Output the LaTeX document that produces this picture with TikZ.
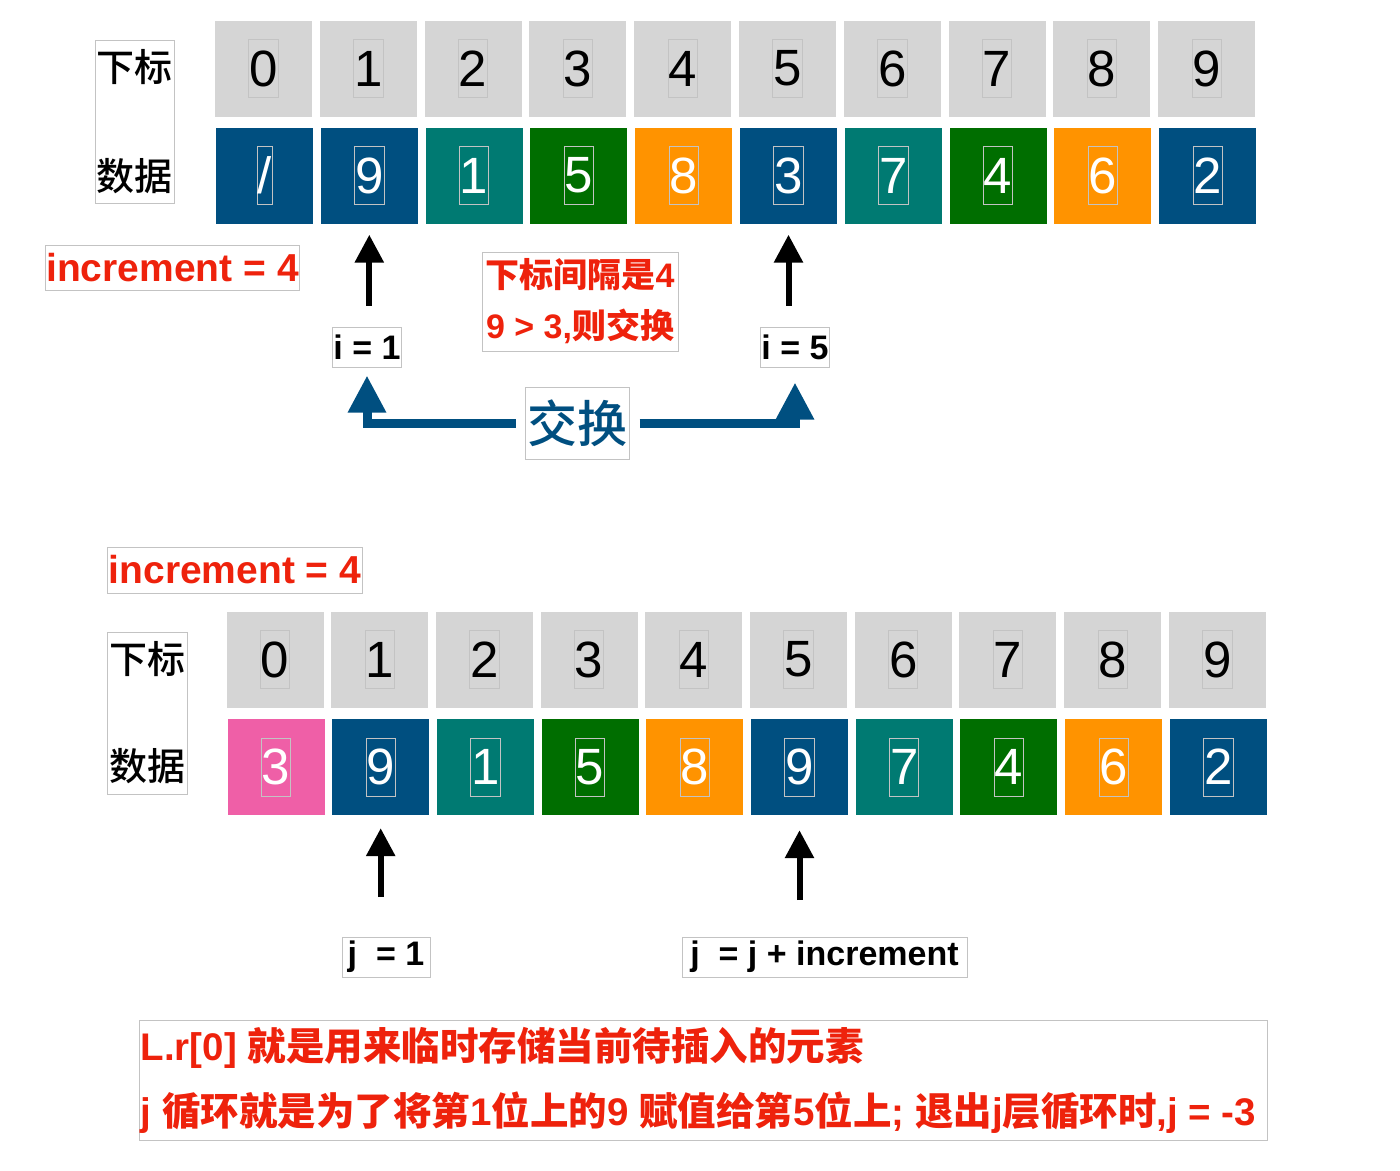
\documentclass[tikz,border=0pt]{standalone}
\usepackage{fontspec}
\setmainfont{Liberation Sans}
\newfontfamily\cjk{Noto Sans CJK SC}
\newfontfamily\cjkm{Noto Sans CJK SC Medium}
\usetikzlibrary{arrows.meta,positioning}
\definecolor{cellgray}{RGB}{213,213,213}
\definecolor{dblue}{RGB}{0,79,128}
\definecolor{dteal}{RGB}{0,122,114}
\definecolor{dgreen}{RGB}{0,110,0}
\definecolor{dorange}{RGB}{255,147,0}
\definecolor{dpink}{RGB}{239,95,167}
\definecolor{kred}{RGB}{238,34,12}
\definecolor{boxgray}{RGB}{195,195,195}
\newcommand{\fsz}[2]{\fontsize{#1}{#2}\selectfont}

\begin{document}
\begin{tikzpicture}[
  x=1pt, y=-1pt,
  cell/.style={minimum width=97pt, minimum height=96pt, inner sep=0pt},
  digit/.style={draw=boxgray, line width=0.8pt, inner xsep=0.5pt, inner ysep=0pt, minimum height=58pt, font=\fsz{51}{60}},
  tbox/.style={draw=boxgray, line width=1pt, inner xsep=1pt, inner ysep=0pt, align=center},
  redtxt/.style={text=kred, font=\bfseries\fsz{39}{46}},
  up/.style={-{Triangle[length=28pt,width=28pt]}, line width=6pt},
  swap/.style={-{Triangle[length=37pt,width=36pt]}, line width=9pt, draw=dblue}
]
\useasboundingbox (0,0) rectangle (1400,1170);

% upper array
\foreach \v/\c [count=\i from 0] in {\slash/dblue,9/dblue,1/dteal,5/dgreen,8/dorange,3/dblue,7/dteal,4/dgreen,6/dorange,2/dblue}{
  \node[cell, fill=cellgray] (ti\i) at (263.5+104.8*\i, 68.5) {};
  \node[digit] (tin\i) at (ti\i) {\i};
  \node[cell, fill=\c] (td\i) at (264.5+104.8*\i, 175.5) {};
  \node[digit, text=white] (tdn\i) at (td\i) {\v};
}
\node[tbox, minimum width=79pt, minimum height=163pt, font=\cjkm\fsz{38}{109}] (tlab) at (134.5,121.5) {下标\\数据};
\node[tbox, redtxt, minimum width=253pt, minimum height=45pt] (tinc) at (172.5,267.5) {increment = 4};

\node[tbox, minimum height=40pt, font=\bfseries\fsz{34}{40}] (i1) at (367,347) {i = 1};
\node[tbox, minimum height=40pt, font=\bfseries\fsz{34}{40}] (i5) at (795,347) {i = 5};
\node[tbox, minimum width=196pt, minimum height=99pt, text=kred, font=\bfseries\fsz{34}{51}] (cmp) at (580,301.5) {{\cjk 下标间隔是}4\\9 > 3,{\cjk 则交换}};
\node[tbox, minimum width=104pt, minimum height=72pt, text=dblue, font=\cjkm\fsz{50}{60}] (xch) at (577,423) {交换};

\draw[up] ([yshift=-82pt]td1.south) -- ([yshift=-11pt]td1.south);
\draw[up] ([yshift=-82pt]td5.south) -- ([yshift=-11pt]td5.south);
\draw[swap] ([xshift=-9pt]xch.west) -| ([yshift=-8pt]i1.south);
\draw[swap] ([xshift=10pt]xch.east) -| ([yshift=-15pt]i5.south);

% lower array
\node[tbox, redtxt, minimum width=253pt, minimum height=46pt] (binc) at (235,570) {increment = 4};
\foreach \v/\c [count=\i from 0] in {3/dpink,9/dblue,1/dteal,5/dgreen,8/dorange,9/dblue,7/dteal,4/dgreen,6/dorange,2/dblue}{
  \node[cell, fill=cellgray] (bi\i) at (275+104.7*\i, 659.5) {};
  \node[digit] (bin\i) at (bi\i) {\i};
  \node[cell, fill=\c] (bd\i) at (276+104.7*\i, 767) {};
  \node[digit, text=white] (bdn\i) at (bd\i) {\v};
}
\node[tbox, minimum width=80pt, minimum height=162pt, font=\cjkm\fsz{38}{107}] (blab) at (147,713) {下标\\数据};

\draw[up] ([yshift=-82pt]bd1.south) -- ([yshift=-13pt]bd1.south);
\draw[up] ([yshift=-85pt]bd5.south) -- ([yshift=-15pt]bd5.south);
\node[tbox, minimum width=88pt, minimum height=40pt, font=\bfseries\fsz{34}{40}] (j1) at (386,957) {j\ \ = 1};
\node[tbox, minimum width=285pt, minimum height=40pt, font=\bfseries\fsz{34}{40}] (jn) at (824.5,957) {j\ \ = j + increment};

\node[tbox, minimum width=1128pt, minimum height=120pt] (note) at (703,1080) {};
\node[anchor=west, align=left, inner sep=0pt, redtxt, font=\bfseries\fsz{38.5}{65}] (notetxt) at ([xshift=2pt]note.west)
  {L.r[0] {\cjk 就是用来临时存储当前待插入的元素}\\
   j {\cjk 循环就是为了将第}1{\cjk 位上的}9 {\cjk 赋值给第}5{\cjk 位上}; {\cjk 退出}j{\cjk 层循环时},j = -3};
\end{tikzpicture}
\end{document}
